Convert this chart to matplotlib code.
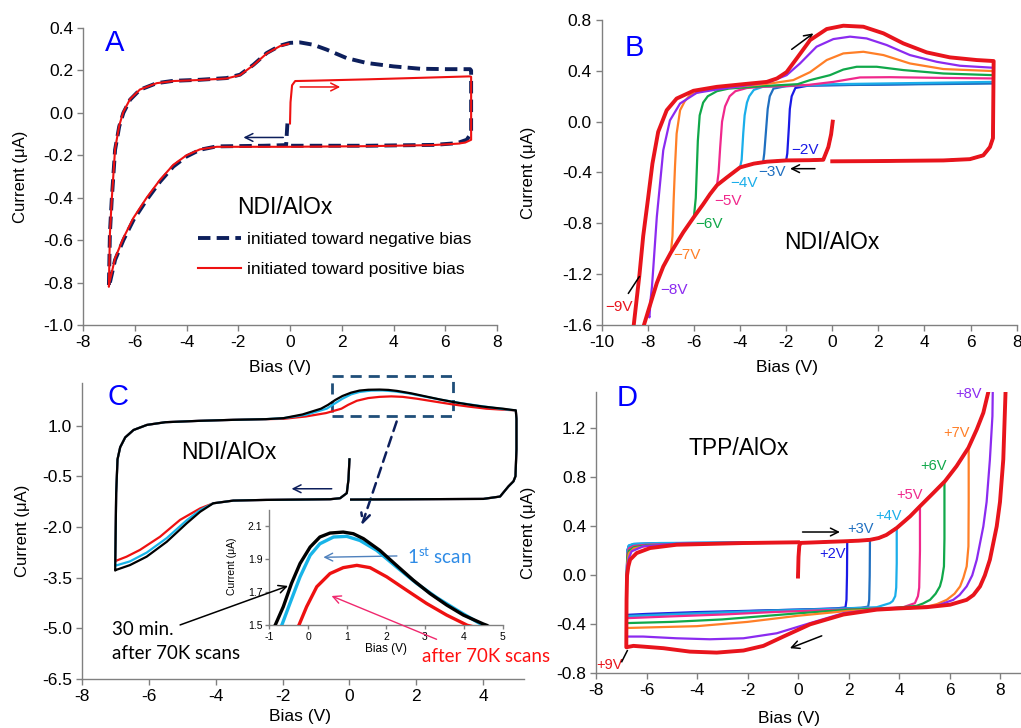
import matplotlib
matplotlib.use('Agg')
import matplotlib.pyplot as plt
from matplotlib.patches import Rectangle
from matplotlib.ticker import FormatStrFormatter

plt.rcParams['font.family'] = ['Liberation Sans', 'DejaVu Sans']
plt.rcParams['axes.unicode_minus'] = False
plt.rcParams['mathtext.fontset'] = 'custom'
plt.rcParams['mathtext.rm'] = 'Lato'

# ---------------- Panel A : NDI/AlOx, two starting directions ----------------
A_NEG_V = [-0.1, -0.15, -1.0, -2.83, -3.48, -4.0, -4.51, -5.02, -5.54, -6.05, -6.44, -6.76, -6.98, -7.0,
           -6.96, -6.89, -6.76, -6.6, -6.44, -6.18, -5.8, -5.15, -4.51, -3.48, -2.45, -1.93, -1.41, -0.9,
           -0.38, 0.0, 0.39, 0.9, 1.42, 2.19, 2.97, 4.0, 5.03, 6.06, 6.96, 7.0, 7.0, 6.83, 6.45, 5.55, 3.0, 0.0]
A_NEG_I = [-0.05, -0.152, -0.155, -0.158, -0.174, -0.206, -0.253, -0.324, -0.41, -0.505, -0.6, -0.693, -0.81, -0.82,
           -0.567, -0.41, -0.174, -0.064, 0.0, 0.062, 0.109, 0.14, 0.151, 0.156, 0.164, 0.18, 0.227, 0.282,
           0.317, 0.33, 0.332, 0.321, 0.298, 0.258, 0.235, 0.219, 0.208, 0.206, 0.206, 0.2, -0.096, -0.127, -0.143, -0.151, -0.155, -0.155]
A_POS_V = [0.0, 0.02, 0.08, 0.2, 1.0, 3.0, 5.0, 6.95, 7.0, 7.0, 6.77, 6.5, 5.5, 3.0, 0.0, -1.0, -2.83, -3.48,
           -4.0, -4.51, -5.02, -5.54, -6.05, -6.44, -6.76, -6.98, -7.0, -6.96, -6.89, -6.76, -6.6, -6.44,
           -6.18, -5.8, -5.15, -4.51, -3.48, -2.45, -1.93, -1.41, -0.9, -0.38, -0.06]
A_POS_I = [-0.05, 0.05, 0.13, 0.15, 0.152, 0.158, 0.165, 0.172, 0.17, -0.127, -0.14, -0.145, -0.152, -0.157, -0.16, -0.16, -0.16, -0.172,
           -0.2, -0.245, -0.315, -0.4, -0.495, -0.59, -0.685, -0.8, -0.82, -0.57, -0.41, -0.17, -0.06, 0.005,
           0.065, 0.11, 0.14, 0.15, 0.155, 0.162, 0.178, 0.225, 0.28, 0.315, 0.325]

# ---------------- Panel B : NDI/AlOx, negative turning bias ----------------
B_LABELS = ['\u22122V', '\u22123V', '\u22124V', '\u22125V', '\u22126V', '\u22127V', '\u22128V', '\u22129V']
B_COLORS = ['#1A1AE6', '#1F6FC0', '#1AAEEA', '#F0288C', '#10A84A', '#FF7F27', '#8B2BF0', '#E8141C']
B_DOWN_V = [0.02, -0.05, -0.17, -0.39, -1.0, -2.0, -2.84, -3.4, -4.0, -4.58, -5.0, -5.3, -5.6, -6.0,
            -6.46, -7.0, -7.33, -7.61, -8.0, -8.2, -8.35]
B_DOWN_I = [0.0, -0.1, -0.2, -0.30, -0.303, -0.305, -0.315, -0.33, -0.36, -0.44, -0.50, -0.57, -0.65, -0.75,
            -0.87, -1.03, -1.14, -1.27, -1.5, -1.62, -1.72]
B_UP_V = [
    [-2.0, -1.95, -1.88, -1.84, -1.76, -1.6, -1.0, 1.0, 4.0, 7.0],
    [-3.0, -2.95, -2.86, -2.8, -2.71, -2.55, -2.0, 0.0, 3.0, 7.0],
    [-4.0, -3.93, -3.86, -3.8, -3.7, -3.6, -3.4, -3.0, -2.0, 0.0, 2.0, 4.0, 7.0],
    [-5.0, -4.93, -4.86, -4.78, -4.65, -4.45, -4.2, -3.7, -3.0, -2.0, -1.0, 0.05, 1.2, 2.5, 4.5, 7.0],
    [-6.0, -5.92, -5.88, -5.83, -5.75, -5.6, -5.4, -5.0, -4.5, -3.0, -1.5, -0.96, -0.1, 0.48, 1.06, 1.93,
     3.08, 4.82, 7.0],
    [-7.0, -6.93, -6.88, -6.82, -6.75, -6.6, -6.4, -6.17, -5.45, -4.16, -2.71, -1.69, -0.96, -0.24, 0.48,
     1.35, 2.22, 3.37, 4.82, 7.0],
    [-8.0, -7.93, -7.88, -7.82, -7.76, -7.61, -7.33, -7.04, -6.6, -5.88, -5.01, -3.86, -2.71, -1.98, -1.4,
     -0.68, 0.05, 0.77, 1.49, 2.36, 3.37, 4.53, 5.54, 7.0],
    [-8.7, -8.61, -8.36, -8.2, -8.0, -7.8, -7.55, -7.18, -6.75, -6.02, -5.01, -3.86, -2.84, -2.4, -1.98,
     -1.54, -0.96, -0.24, 0.48, 1.35, 2.22, 3.08, 4.1, 5.1, 6.26, 7.0],
]
B_UP_I = [
    [-0.305, -0.25, -0.04, 0.10, 0.2, 0.265, 0.285, 0.29, 0.298, 0.306],
    [-0.32, -0.25, -0.04, 0.1, 0.2, 0.26, 0.28, 0.287, 0.293, 0.30],
    [-0.36, -0.3, -0.09, 0.05, 0.15, 0.2, 0.25, 0.275, 0.28, 0.295, 0.30, 0.305, 0.313],
    [-0.50, -0.40, -0.2, 0.0, 0.12, 0.2, 0.24, 0.265, 0.275, 0.28, 0.29, 0.313, 0.348, 0.35, 0.345, 0.34],
    [-0.75, -0.6, -0.4, -0.15, 0.05, 0.15, 0.2, 0.24, 0.26, 0.28, 0.295, 0.327, 0.366, 0.41, 0.432, 0.432,
     0.406, 0.379, 0.366],
    [-1.03, -0.9, -0.62, -0.35, -0.094, 0.09, 0.16, 0.209, 0.253, 0.274, 0.3, 0.327, 0.39, 0.485, 0.537,
     0.55, 0.524, 0.458, 0.414, 0.398],
    [-1.5, -1.54, -1.4, -1.3, -1.145, -0.75, -0.225, 0.01, 0.143, 0.227, 0.253, 0.282, 0.313, 0.366, 0.458,
     0.59, 0.65, 0.669, 0.655, 0.603, 0.524, 0.471, 0.44, 0.424],
    [-1.75, -1.6, -1.2, -0.9, -0.62, -0.33, -0.08, 0.09, 0.182, 0.243, 0.274, 0.295, 0.313, 0.34, 0.39,
     0.498, 0.642, 0.729, 0.755, 0.747, 0.695, 0.616, 0.545, 0.506, 0.485, 0.477],
]
B_RET_V = [7.0, 6.97, 6.84, 6.55, 5.97, 4.82, 2.0, 0.0]
B_RET_I = [-0.07, -0.13, -0.2, -0.265, -0.295, -0.305, -0.31, -0.312]

# ---------------- Panel C : NDI/AlOx, endurance ----------------
C_NAMES = ['after 70K scans', '1st scan', '30 min. after 70K scans']
C_COLORS = ['#EE1111', '#18B4E8', '#000000']
C_START_V = [0.0, -0.03, -0.08, -0.28, -0.58, -1.5, -2.5, -3.47]
C_START_I = [0.0, -0.6, -1.0, -1.15, -1.18, -1.19, -1.2, -1.22]
C_BL_V = [[-4.07, -4.46, -5.06, -5.66, -6.26, -6.66, -6.97, -7.0],
          [-4.07, -4.46, -4.86, -5.46, -6.06, -6.56, -6.97, -7.0],
          [-4.07, -4.46, -4.86, -5.46, -6.06, -6.56, -6.97, -7.0]]
C_BL_I = [[-1.30, -1.45, -1.79, -2.29, -2.68, -2.88, -3.0, -3.02],
          [-1.30, -1.50, -1.80, -2.33, -2.76, -3.02, -3.14, -3.15],
          [-1.30, -1.55, -1.89, -2.44, -2.88, -3.13, -3.27, -3.29]]
C_UP_V = [-6.97, -6.93, -6.85, -6.7, -6.45, -6.05, -5.5, -4.5, -3.47, -2.5]
C_UP_I = [-1.0, 0.0, 0.36, 0.65, 0.87, 1.02, 1.1, 1.14, 1.17, 1.19]
C_PK_V = [[-1.97, -1.3, -0.7, -0.24, -0.04, 0.22, 0.56, 0.90, 1.25, 1.59, 2.02, 2.53, 3.04, 3.56, 3.99, 4.09, 4.6],
          [-1.97, -1.3, -0.68, -0.47, -0.21, 0.05, 0.30, 0.65, 0.99, 1.33, 1.76, 2.27, 2.79, 3.30, 3.82, 4.33,
           4.50, 4.75],
          [-1.97, -1.4, -0.85, -0.64, -0.43, -0.21, 0.05, 0.30, 0.56, 0.90, 1.16, 1.42, 1.84, 2.27, 2.70, 3.13,
           3.56, 3.99, 4.50, 4.59, 4.8]]
C_PK_I = [[1.2, 1.27, 1.37, 1.5, 1.613, 1.734, 1.814, 1.85, 1.864, 1.85, 1.794, 1.713, 1.633, 1.562, 1.512, 1.5, 1.47],
          [1.22, 1.32, 1.5, 1.633, 1.794, 1.925, 1.995, 2.036, 2.04, 2.015, 1.955, 1.854, 1.754, 1.669, 1.593,
           1.522, 1.5, 1.47],
          [1.22, 1.33, 1.5, 1.613, 1.754, 1.875, 1.975, 2.036, 2.06, 2.066, 2.056, 2.026, 1.955, 1.864, 1.774,
           1.693, 1.623, 1.562, 1.508, 1.5, 1.47]]
C_RIGHT_V = [4.97, 4.99, 4.99, 4.96, 4.9, 4.75, 4.5, 4.0, 2.0, 0.05]
C_RIGHT_I = [1.45, 1.2, 0.3, -0.5, -0.65, -0.8, -1.1, -1.17, -1.18, -1.19]

# ---------------- Panel D : TPP/AlOx, positive turning bias ----------------
D_LABELS = ['+2V', '+3V', '+4V', '+5V', '+6V', '+7V', '+8V', '+9V']
D_COLORS = B_COLORS
D_START_V = [0.0, 0.02, 0.05, 0.1]
D_START_I = [-0.01, 0.15, 0.24, 0.265]
D_RISE_V = [0.5, 1.0, 1.8, 2.4, 2.85, 3.2, 3.5, 3.91, 4.44, 4.83, 5.36, 5.82, 6.28, 6.75, 7.08, 7.34, 7.54, 7.7]
D_RISE_I = [0.268, 0.272, 0.278, 0.283, 0.29, 0.305, 0.33, 0.387, 0.482, 0.564, 0.673, 0.769, 0.892, 1.042,
            1.192, 1.328, 1.5, 1.62]
D_DROP_V = [
    [1.95, 1.94, 1.92, 1.88, 1.5, 0.0, -2.0, -4.0, -6.0, -6.8],
    [2.85, 2.84, 2.82, 2.78, 2.5, 1.0, -1.0, -3.0, -5.0, -6.8],
    [3.91, 3.91, 3.89, 3.85, 3.75, 3.64, 3.12, 1.0, -1.0, -3.0, -5.0, -6.8],
    [4.83, 4.83, 4.8, 4.75, 4.63, 4.17, 3.12, 1.0, -1.0, -3.0, -5.0, -6.8],
    [5.8, 5.8, 5.78, 5.7, 5.62, 5.45, 5.23, 4.95, 4.7, 3.78, 2.0, 0.0, -3.0, -5.0, -6.8],
    [6.76, 6.76, 6.75, 6.68, 6.55, 6.42, 6.2, 5.89, 5.5, 5.23, 4.44, 2.0, 0.0, -2.0, -4.0, -6.8],
    [7.72, 7.7, 7.6, 7.47, 7.34, 7.08, 6.9, 6.68, 6.4, 6.15, 5.49, 4.44, 3.0, 1.8, 0.48, -0.84, -2.16, -3.49,
     -4.81, -6.13, -6.8],
    [8.25, 8.22, 8.13, 8.0, 7.87, 7.6, 7.4, 7.21, 6.95, 6.68, 6.02, 5.1, 4.0, 3.12, 1.8, 0.48, -0.58, -1.37,
     -2.16, -3.22, -4.28, -5.33, -6.13, -6.52, -6.79],
]
D_DROP_I = [
    [0.28, 0.0, -0.2, -0.262, -0.27, -0.28, -0.29, -0.30, -0.315, -0.323],
    [0.292, 0.0, -0.2, -0.255, -0.265, -0.275, -0.285, -0.30, -0.315, -0.33],
    [0.39, 0.1, -0.1, -0.17, -0.21, -0.227, -0.26, -0.278, -0.29, -0.305, -0.32, -0.335],
    [0.564, 0.2, -0.1, -0.17, -0.227, -0.26, -0.27, -0.285, -0.30, -0.32, -0.335, -0.35],
    [0.765, 0.3, 0.073, -0.03, -0.09, -0.15, -0.2, -0.23, -0.249, -0.268, -0.28, -0.31, -0.36, -0.38, -0.39],
    [1.05, 0.6, 0.237, 0.073, -0.02, -0.09, -0.15, -0.2, -0.235, -0.249, -0.268, -0.29, -0.33, -0.38, -0.415,
     -0.43],
    [1.6, 1.3, 0.946, 0.6, 0.4, 0.128, 0.0, -0.09, -0.16, -0.2, -0.249, -0.268, -0.28, -0.309, -0.39, -0.473,
     -0.514, -0.522, -0.514, -0.5, -0.5],
    [1.6, 1.5, 0.946, 0.6, 0.4, 0.128, 0.0, -0.09, -0.16, -0.2, -0.24, -0.26, -0.27, -0.28, -0.32, -0.4, -0.5,
     -0.576, -0.614, -0.631, -0.623, -0.595, -0.582, -0.576, -0.587],
]
D_LEFT_V = [
    [-6.8, -6.78, -6.76, -6.7, -6.5, -5.5, -3.0, 0.0],
    [-6.8, -6.78, -6.76, -6.7, -6.5, -5.5, -3.0, 0.0],
    [-6.8, -6.78, -6.76, -6.7, -6.5, -5.5, -3.0, 0.0],
    [-6.8, -6.78, -6.76, -6.7, -6.5, -6.0, -4.0, -2.0, 0.0],
    [-6.8, -6.78, -6.76, -6.7, -6.5, -6.0, -4.0, -2.0, 0.0],
    [-6.8, -6.78, -6.76, -6.7, -6.5, -6.0, -4.0, -2.0, 0.0],
    [-6.8, -6.79, -6.76, -6.7, -6.59, -6.13, -4.81, -2.5, 0.0],
    [-6.8, -6.79, -6.77, -6.72, -6.65, -6.39, -5.86, -4.81, -2.16, 0.0],
]
D_LEFT_I = [
    [-0.323, 0.0, 0.2, 0.24, 0.255, 0.262, 0.266, 0.27],
    [-0.33, 0.0, 0.2, 0.24, 0.255, 0.262, 0.266, 0.27],
    [-0.335, 0.0, 0.2, 0.245, 0.258, 0.264, 0.268, 0.27],
    [-0.35, 0.0, 0.17, 0.22, 0.24, 0.25, 0.26, 0.265, 0.27],
    [-0.39, 0.0, 0.15, 0.2, 0.23, 0.245, 0.258, 0.265, 0.27],
    [-0.43, -0.05, 0.1, 0.18, 0.22, 0.24, 0.255, 0.262, 0.27],
    [-0.5, -0.1, 0.08, 0.14, 0.196, 0.237, 0.258, 0.265, 0.27],
    [-0.587, -0.2, 0.0, 0.073, 0.128, 0.182, 0.223, 0.25, 0.264, 0.27],
]

GREY = '#808080'
NAVY = '#0D1F5C'
W, H = 1021, 728


def add_axes_px(fig, left, top, right, bottom):
    return fig.add_axes([left / W, 1 - bottom / H, (right - left) / W, (bottom - top) / H])


def style(ax, xlim, ylim, xticks, yticks, yfmt='%.1f', size=12.5):
    for s in ['top', 'right']:
        ax.spines[s].set_visible(False)
    for s in ['left', 'bottom']:
        ax.spines[s].set_color(GREY)
        ax.spines[s].set_linewidth(1.0)
    ax.set_xlim(*xlim)
    ax.set_ylim(*ylim)
    ax.set_xticks(xticks)
    ax.set_yticks(yticks)
    ax.yaxis.set_major_formatter(FormatStrFormatter(yfmt))
    ax.xaxis.set_major_formatter(FormatStrFormatter('%d'))
    ax.tick_params(direction='out', length=4, width=1, color=GREY, labelsize=size, pad=3)


def arrow(ax, tail, head, color='black', lw=1.1, ls='-', ms=14, **kw):
    ax.annotate('', xy=head, xytext=tail,
                arrowprops=dict(arrowstyle='->', color=color, lw=lw, linestyle=ls,
                                mutation_scale=ms, shrinkA=0, shrinkB=0), **kw)


def labels(ax, lx, ly, yx):
    ax.set_xlabel('Bias (V)', fontsize=12.5)
    ax.set_ylabel('Current (\u03bcA)', fontsize=12)
    ax.xaxis.set_label_coords(lx, ly)
    ax.yaxis.set_label_coords(yx, 0.5)


fig = plt.figure(figsize=(W / 100, H / 100), dpi=100)

# ---------------- A ----------------
axA = add_axes_px(fig, 83, 28, 497, 325)
style(axA, (-8, 8), (-1.0, 0.4), range(-8, 9, 2), [-1.0, -0.8, -0.6, -0.4, -0.2, 0.0, 0.2, 0.4])
axA.plot(A_NEG_V, A_NEG_I, color=NAVY, lw=2.8, ls=(0, (3.2, 1.6)), label='initiated toward negative bias')
axA.plot(A_POS_V, A_POS_I, color='#EE1111', lw=1.5, label='initiated toward positive bias')
labels(axA, 0.476, -0.118, -0.133)
axA.text(-6.76, 0.329, 'A', color='blue', fontsize=21, ha='center', va='center')
axA.text(-0.19, -0.444, 'NDI/AlOx', fontsize=16.5, ha='center', va='center')
arrow(axA, (0.39, 0.122), (1.94, 0.122), color='#EE1111')
arrow(axA, (-0.26, -0.116), (-1.8, -0.116), color=NAVY)
axA.legend(loc='upper left', bbox_to_anchor=(0.278, 0.313), frameon=False, fontsize=12.5,
           handlelength=2.45, handletextpad=0.35, labelspacing=0.84, borderaxespad=0, borderpad=0)

# ---------------- B ----------------
axB = add_axes_px(fig, 601.7, 20, 1016.7, 325)
style(axB, (-10, 8), (-1.6, 0.8), range(-10, 9, 2), [-1.6, -1.2, -0.8, -0.4, 0.0, 0.4, 0.8])
for k in range(len(B_LABELS)):
    vt = B_UP_V[k][0]
    dv = [v for v in B_DOWN_V if v > vt]
    di = B_DOWN_I[:len(dv)]
    vv = dv + B_UP_V[k] + B_RET_V[1:]
    ii = di + B_UP_I[k] + B_RET_I[1:]
    red = k == len(B_LABELS) - 1
    axB.plot(vv, ii, color=B_COLORS[k], lw=2.8 if red else 1.6, zorder=3 + k)
B_LAB_V = [-1.80, -3.2, -4.43, -5.13, -5.95, -6.89, -7.47, -9.86]
B_LAB_I = [-0.225, -0.396, -0.483, -0.625, -0.809, -1.053, -1.324, -1.46]
for k in range(len(B_LABELS)):
    axB.text(B_LAB_V[k], B_LAB_I[k], B_LABELS[k], color=B_COLORS[k], fontsize=11, va='center', zorder=20)
labels(axB, 0.4465, -0.115, -0.158)
axB.text(-8.6, 0.58, 'B', color='blue', fontsize=21, ha='center', va='center')
axB.text(-0.02, -0.948, 'NDI/AlOx', fontsize=16.5, ha='center', va='center')
arrow(axB, (-1.76, 0.569), (-0.82, 0.695))
arrow(axB, (-0.75, -0.37), (-1.83, -0.37))
axB.plot([-8.84, -8.37], [-1.35, -1.22], color='black', lw=1.1, zorder=20)

# ---------------- C ----------------
axC = add_axes_px(fig, 81.7, 383, 523.5, 679)
style(axC, (-8, 5.2), (-6.5, 2.26), range(-8, 5, 2), [-6.5, -5.0, -3.5, -2.0, -0.5, 1.0])
for k in range(3):
    vv = C_START_V + C_BL_V[k] + C_UP_V + C_PK_V[k] + C_RIGHT_V
    ii = C_START_I + C_BL_I[k] + C_UP_I + C_PK_I[k] + C_RIGHT_I
    axC.plot(vv, ii, color=C_COLORS[k], lw=1.6, zorder=3 + k)
labels(axC, 0.494, -0.101, -0.118)
axC.text(-6.93, 1.85, 'C', color='blue', fontsize=21, ha='center', va='center')
axC.text(-3.6, 0.19, 'NDI/AlOx', fontsize=16.5, ha='center', va='center')
axC.add_patch(Rectangle((-0.53, 1.27), 3.63, 1.2, fill=False, ec='#1F4E79', lw=2.0,
                        ls=(0, (4, 2.5)), clip_on=False))
arrow(axC, (1.41, 1.12), (0.37, -1.94), color=NAVY, lw=1.8, ls=(0, (4, 2.5)), ms=16)
arrow(axC, (-0.53, -0.87), (-1.73, -0.87), color=NAVY)
axC.text(-7.1, -5.03, '30 min.', fontsize=13.5, family='Lato', va='center')
axC.text(-7.1, -5.76, 'after 70K scans', fontsize=13.5, family='Lato', va='center')
axC.text(2.16, -5.82, 'after 70K scans', fontsize=13.5, family='Lato', va='center', color='#FF1010')

# inset
axI = add_axes_px(fig, 269.3, 510, 502.7, 625.3)
axI.patch.set_alpha(0)
style(axI, (-1, 5), (1.5, 2.2), range(-1, 6), [1.5, 1.7, 1.9, 2.1], size=7.5)
axI.tick_params(length=3, pad=2)
for k in range(3):
    axI.plot(C_PK_V[k], C_PK_I[k], color=C_COLORS[k], lw=2.4, zorder=3 + k)
axI.set_xlabel('Bias (V)', fontsize=8.5)
axI.set_ylabel('Current (\u03bcA)', fontsize=7.5)
axI.xaxis.set_label_coords(0.5, -0.154)
axI.yaxis.set_label_coords(-0.138, 0.508)
arrow(axI, (2.28, 1.921), (0.39, 1.913), color='#4F81BD', lw=1.0, annotation_clip=False)
axI.text(2.53, 1.916, '1$^{\\mathrm{st}}$ scan', fontsize=13.5, family='Lato', color='#2E8BE6', va='center')
arrow(axI, (3.30, 1.415), (0.60, 1.678), color='#F0286E', lw=1.0, annotation_clip=False)
axI.annotate('', xy=(-0.52, 1.739), xycoords='data', xytext=(-5.06, -4.9), textcoords=axC.transData,
             arrowprops=dict(arrowstyle='->', color='black', lw=1.1, mutation_scale=14, shrinkA=0, shrinkB=0),
             annotation_clip=False)

# ---------------- D ----------------
axD = add_axes_px(fig, 596, 391.7, 1020.2, 673.3)
style(axD, (-8, 8.8), (-0.8, 1.5), range(-8, 9, 2), [-0.8, -0.4, 0.0, 0.4, 0.8, 1.2])
for k in range(len(D_LABELS)):
    vt = D_DROP_V[k][0]
    rv = [v for v in D_RISE_V if v < vt]
    ri = D_RISE_I[:len(rv)]
    vv = D_START_V + rv + D_DROP_V[k] + D_LEFT_V[k]
    ii = D_START_I + ri + D_DROP_I[k] + D_LEFT_I[k]
    red = k == len(D_LABELS) - 1
    axD.plot(vv, ii, color=D_COLORS[k], lw=2.8 if red else 1.6, zorder=3 + k)
D_LAB_V = [0.84, 1.95, 3.05, 3.91, 4.86, 5.76, 6.22, -8.0]
D_LAB_I = [0.174, 0.381, 0.482, 0.654, 0.892, 1.165, 1.484, -0.73]
for k in range(len(D_LABELS)):
    axD.text(D_LAB_V[k], D_LAB_I[k], D_LABELS[k], color=D_COLORS[k], fontsize=10.5, va='center', zorder=20)
labels(axD, 0.455, -0.134, -0.1415)
axD.text(-6.78, 1.445, 'D', color='blue', fontsize=21, ha='center', va='center')
axD.text(-2.34, 1.034, 'TPP/AlOx', fontsize=16.5, ha='center', va='center')
arrow(axD, (0.18, 0.354), (1.66, 0.354))
arrow(axD, (0.94, -0.494), (-0.32, -0.595))
axD.plot([-6.98, -6.76], [-0.705, -0.615], color='black', lw=1.1, zorder=20)

fig.savefig('out.png', dpi=100)
